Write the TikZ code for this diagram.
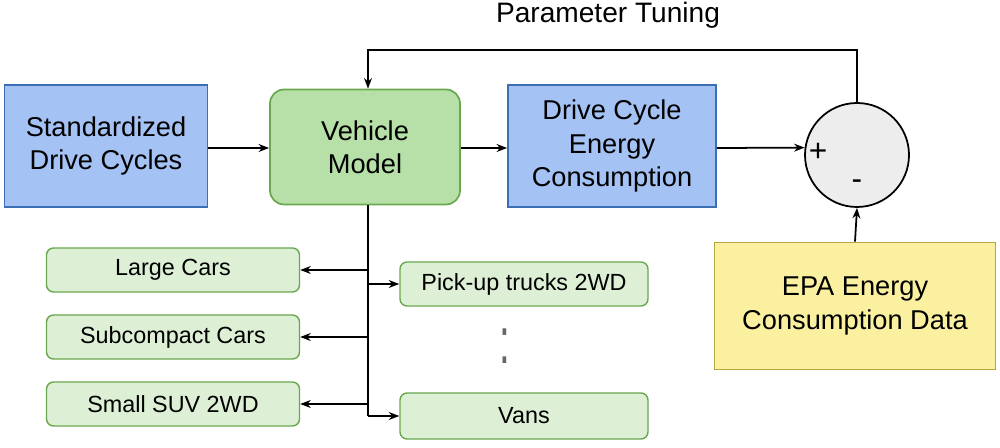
\documentclass[tikz,border=0pt]{standalone}
\usepackage{fontspec}
\setmainfont{Liberation Sans}
\usetikzlibrary{arrows.meta}
\definecolor{bluefill}{HTML}{A4C2F4}
\definecolor{blueline}{HTML}{3C6EB4}
\definecolor{greenfill}{HTML}{B6E0A8}
\definecolor{greenline}{HTML}{6AA84F}
\definecolor{lightgreen}{HTML}{DDF0D6}
\definecolor{yellowfill}{HTML}{FBF0A0}
\definecolor{yellowline}{HTML}{B5A642}
\begin{document}
\begin{tikzpicture}[x=0.02cm, y=-0.02cm, thick,
  bigbox/.style={draw=blueline, fill=bluefill, line width=1pt, align=center,
    font=\fontsize{15.5}{19}\selectfont},
  modelbox/.style={draw=greenline, fill=greenfill, line width=1pt, rounded corners=8pt,
    align=center, font=\fontsize{15.5}{19}\selectfont},
  carbox/.style={draw=greenline, fill=lightgreen, line width=0.8pt, rounded corners=4pt,
    font=\fontsize{13.3}{15}\selectfont},
  arr/.style={-{Stealth[length=6pt]}, line width=1pt}]
  \useasboundingbox (0,0) rectangle (1000,448);

  % main chain
  \node[bigbox, minimum width=203*0.02cm, minimum height=122*0.02cm] (cycles) at (106,146) {Standardized\\Drive Cycles};
  \node[modelbox, minimum width=190*0.02cm, minimum height=115*0.02cm] (model) at (365,147) {Vehicle\\Model};
  \node[bigbox, minimum width=208*0.02cm, minimum height=122*0.02cm] (energy) at (612,146) {Drive Cycle\\Energy\\Consumption};
  \node[draw, fill=black!7, circle, line width=1pt, minimum size=104*0.02cm] (sum) at (857,155) {};
  \node[font=\fontsize{18}{20}\selectfont] at (818,152) {+};
  \node[font=\fontsize{18}{20}\selectfont] at (857,185) {-};
  \node[draw=yellowline, fill=yellowfill, line width=1pt, align=center,
    minimum width=281*0.02cm, minimum height=127*0.02cm,
    font=\fontsize{15.5}{19}\selectfont] (epa) at (855,306) {EPA Energy\\Consumption Data};

  \draw[arr] (cycles.east |- 0,148) -- (model.west |- 0,148);
  \draw[arr] (model.east |- 0,148) -- (energy.west |- 0,148);
  \draw[arr] (energy.east |- 0,148) -- (sum.172);
  \draw[arr] (epa.north) -- (sum.south);

  % feedback
  \coordinate (fbright) at (857,50);
  \coordinate (fbleft) at (368,50);
  \draw[arr] (sum.north) -- (fbright) -- (fbleft) -- (model.north -| fbleft);
  \node[font=\fontsize{16}{18}\selectfont] (tuning) at (608,15) {Parameter Tuning};

  % vehicle classes
  \node[carbox, minimum width=253*0.02cm, minimum height=44*0.02cm] (large) at (173,270) {Large Cars};
  \node[carbox, minimum width=253*0.02cm, minimum height=44*0.02cm] (subcompact) at (173,337) {Subcompact Cars};
  \node[carbox, minimum width=253*0.02cm, minimum height=44*0.02cm] (suv) at (173,404) {Small SUV 2WD};
  \node[carbox, minimum width=248*0.02cm, minimum height=44*0.02cm] (pickup) at (524,284) {Pick-up trucks 2WD};
  \node[carbox, minimum width=248*0.02cm, minimum height=46*0.02cm] (vans) at (524,416) {Vans};
  \node[font=\fontsize{22}{24}\selectfont, text=black!60, yscale=1.7] (dots) at (505,346) {:};

  \coordinate (trunk) at (368,416);
  \draw[line width=1pt] (model.south -| trunk) -- (trunk);
  \draw[arr] (368,270) -- (large.east);
  \draw[arr] (368,337) -- (subcompact.east);
  \draw[arr] (368,404) -- (suv.east);
  \draw[arr] (368,284) -- (pickup.west);
  \draw[arr] (trunk) -- (vans.west);
\end{tikzpicture}
\end{document}
